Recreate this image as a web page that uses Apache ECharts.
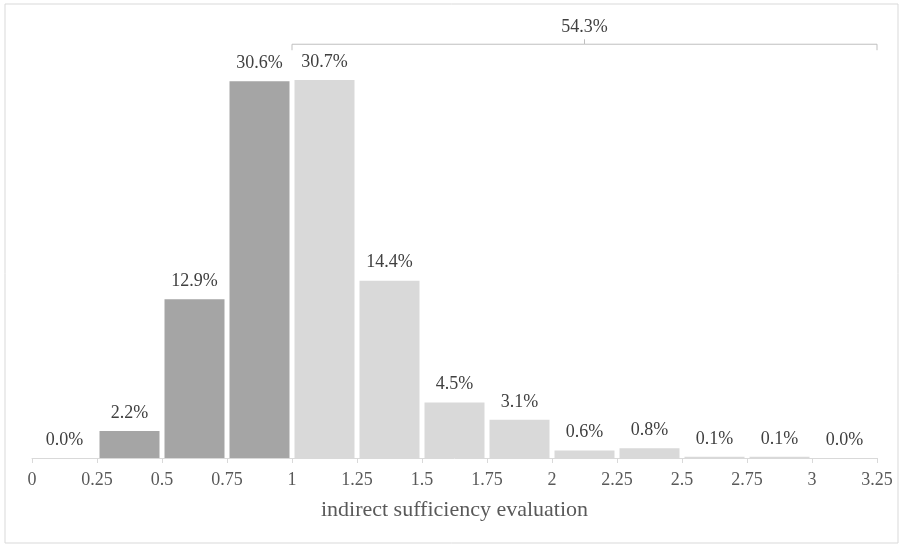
<!DOCTYPE html>
<html>
<head>
<meta charset="utf-8">
<script src="https://cdn.jsdelivr.net/npm/echarts@6/dist/echarts.min.js"></script>
<style>
  html, body { margin: 0; padding: 0; background: #fff; }
  #main { width: 908px; height: 545px; }
</style>
</head>
<body>
<div id="main"></div>
<script>
// bin edges 0 .. 3.25, step 0.25
var binStarts = [0, 0.25, 0.5, 0.75, 1, 1.25, 1.5, 1.75, 2, 2.25, 2.5, 2.75, 3];
var binWidth = 0.25;
var percents = [0.0, 2.2, 12.9, 30.6, 30.7, 14.4, 4.5, 3.1, 0.6, 0.8, 0.1, 0.1, 0.0];
var darkUntil = 1;           // bins below this edge are dark
var bracketFrom = 1, bracketTo = 3.25;

var font = 'Liberation Serif';
var myChart = echarts.init(document.getElementById('main'));

var barData = binStarts.map(function (s, i) {
    return {
        value: [s + binWidth / 2, percents[i]],
        itemStyle: { color: s < darkUntil ? '#a5a5a5' : '#d9d9d9' }
    };
});

// share above bracketFrom
var share = 0;
binStarts.forEach(function (s, i) {
    if (s >= bracketFrom) share += percents[i];
});

var option = {
    animation: false,
    graphic: [{
        type: 'rect',
        shape: { x: 5, y: 4, width: 893, height: 539 },
        style: { fill: 'none', stroke: '#d9d9d9', lineWidth: 1 },
        silent: true
    }],
    grid: { left: 32, right: 31, top: 27, bottom: 87 },
    xAxis: {
        type: 'value',
        min: 0,
        max: 3.25,
        interval: 0.25,
        name: 'indirect sufficiency evaluation',
        nameLocation: 'middle',
        nameGap: 41,
        nameTextStyle: { fontFamily: font, fontSize: 22, color: '#595959' },
        axisLine: { lineStyle: { color: '#d9d9d9' } },
        axisTick: { show: true, length: 5, lineStyle: { color: '#d9d9d9' } },
        axisLabel: {
            fontFamily: font, fontSize: 18, color: '#595959', margin: 13,
            formatter: function (v) { return String(+v.toFixed(2)); }
        },
        splitLine: { show: false }
    },
    yAxis: {
        type: 'value',
        min: 0,
        max: 35,
        show: false
    },
    series: [{
        type: 'bar',
        barWidth: 60,
        data: barData,
        label: {
            show: true,
            position: 'top',
            distance: 9,
            fontFamily: font,
            fontSize: 18,
            color: '#404040',
            formatter: function (p) { return p.value[1].toFixed(1) + '%'; }
        }
    }, {
        type: 'custom',
        clip: false,
        silent: true,
        data: [[bracketFrom, bracketTo, 33.6]],
        renderItem: function (params, api) {
            var a = api.coord([api.value(0), api.value(2)]);
            var b = api.coord([api.value(1), api.value(2)]);
            var mid = (a[0] + b[0]) / 2;
            return {
                type: 'group',
                children: [{
                    type: 'polyline',
                    shape: { points: [[a[0], a[1] + 6], [a[0], a[1]], [b[0], b[1]], [b[0], b[1] + 6]] },
                    style: { stroke: '#bfbfbf', fill: null, lineWidth: 1 }
                }, {
                    type: 'line',
                    shape: { x1: mid, y1: a[1], x2: mid, y2: a[1] - 5 },
                    style: { stroke: '#bfbfbf', lineWidth: 1 }
                }, {
                    type: 'text',
                    style: {
                        text: share.toFixed(1) + '%',
                        x: mid, y: a[1] - 17,
                        textAlign: 'center', textVerticalAlign: 'middle',
                        fontFamily: font, fontSize: 18, fill: '#404040'
                    }
                }]
            };
        }
    }]
};

myChart.setOption(option);
</script>
</body>
</html>
